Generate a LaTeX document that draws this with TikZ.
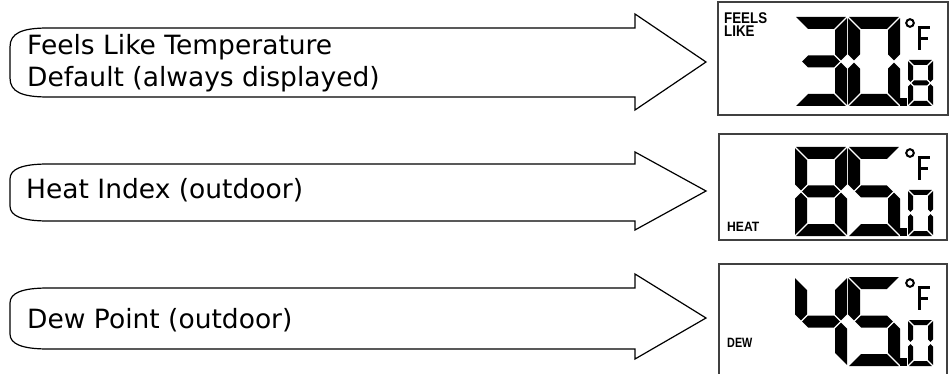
\documentclass[tikz,border=0pt]{standalone}
\usepackage{fontspec}
\setmainfont{DejaVu Sans}
\newfontfamily\lcdfont{Liberation Sans}
\def\dG{1.2}
\newcommand\sgA{\fill (\dG,0) -- ({\dW-\dG},0) -- ({\dW-\dT-\dG},\dT) -- ({\dT+\dG},\dT) -- cycle;}
\newcommand\sgD{\fill (\dG,\dH) -- ({\dW-\dG},\dH) -- ({\dW-\dT-\dG},{\dH-\dT}) -- ({\dT+\dG},{\dH-\dT}) -- cycle;}
\newcommand\sgF{\fill (0,\dG) -- (\dT,{\dT+\dG}) -- (\dT,{\dH/2-\dT/2-\dG}) -- ({\dT/2},{\dH/2-\dG}) -- (0,{\dH/2-\dT/2-\dG}) -- cycle;}
\newcommand\sgE{\fill (0,{\dH/2+\dT/2+\dG}) -- ({\dT/2},{\dH/2+\dG}) -- (\dT,{\dH/2+\dT/2+\dG}) -- (\dT,{\dH-\dT-\dG}) -- (0,{\dH-\dG}) -- cycle;}
\newcommand\sgB{\fill (\dW,\dG) -- ({\dW-\dT},{\dT+\dG}) -- ({\dW-\dT},{\dH/2-\dT/2-\dG}) -- ({\dW-\dT/2},{\dH/2-\dG}) -- (\dW,{\dH/2-\dT/2-\dG}) -- cycle;}
\newcommand\sgC{\fill (\dW,{\dH/2+\dT/2+\dG}) -- ({\dW-\dT/2},{\dH/2+\dG}) -- ({\dW-\dT},{\dH/2+\dT/2+\dG}) -- ({\dW-\dT},{\dH-\dT-\dG}) -- (\dW,{\dH-\dG}) -- cycle;}
\newcommand\sgG{\fill ({\dT/2+\dG},{\dH/2}) -- ({\dT+\dG},{\dH/2-\dT/2}) -- ({\dW-\dT-\dG},{\dH/2-\dT/2}) -- ({\dW-\dT/2-\dG},{\dH/2}) -- ({\dW-\dT-\dG},{\dH/2+\dT/2}) -- ({\dT+\dG},{\dH/2+\dT/2}) -- cycle;}
% digit: x, y, W, H, T, segments
\newcommand\lcddigit[6]{%
  \begin{scope}[shift={(#1,#2)}]
    \def\dW{#3}\def\dH{#4}\def\dT{#5}%
    \foreach \s in {#6}{\csname sg\s\endcsname}%
  \end{scope}}
% display contents: top y, big digit 1, big digit 2, small digit
\newcommand\lcdreading[4]{%
  \lcddigit{795}{#1}{52}{89}{12}{#2}%
  \lcddigit{848}{#1}{52}{89}{12}{#3}%
  \lcddigit{908}{#1+43}{25}{46}{5}{#4}%
  \begin{scope}[shift={(0,#1)}]
    \fill (900,81) rectangle (907,89);
    \draw[line width=2] (910,6) circle[radius=3.8];
    \fill (918,9) rectangle (921,33);
    \fill (918,9) rectangle (930,12);
    \fill (918,20) rectangle (928,23);
  \end{scope}}
% fat arrow: shaft top, shaft bottom, head top, head bottom, tip y, corner height
\newcommand\fatarrow[6]{%
  \draw[arrowline] (48,#1) -- (635,#1) -- (635,#3) -- (706,#5) -- (635,#4) -- (635,#2) -- (48,#2)
    .. controls (22,#2) and (10,{#2-5}) .. (10,{#2-#6}) -- (10,{#1+#6})
    .. controls (10,{#1+5}) and (22,#1) .. (48,#1) -- cycle;}
\begin{document}
\begin{tikzpicture}[x=1pt,y=-1pt,
  arrowline/.style={line width=1.2pt, line join=miter},
  lcdbox/.style={draw=black!75, line width=1.4pt},
  lbl/.style={font=\fontsize{26.5}{32}\selectfont, inner sep=0pt, anchor=base west},
  lcdlbl/.style={inner sep=0pt, anchor=base west}]
\useasboundingbox (0,0) rectangle (950,374);
\fill[white] (0,0) rectangle (950,374);

% arrows
\fatarrow{28}{97}{14}{110}{62}{19}
\fatarrow{164}{221}{152}{230}{191}{15}
\fatarrow{288}{349}{274}{359}{318}{15}

% arrow texts
\node[lbl] (t1a) at (27,55) {Feels Like Temperature};
\node[lbl] (t1b) at (27,87) {Default (always displayed)};
\node[lbl] (t2) at (26,199) {Heat Index (outdoor)};
\node[lbl] (t3) at (27,328) {Dew Point (outdoor)};

% LCD boxes
\draw[lcdbox] (718,2) rectangle (948,115);
\draw[lcdbox] (719,134) rectangle (947,240);
\draw[lcdbox] (719,378) -- (719,264) -- (947,264) -- (947,378);

% LCD labels
\node[inner sep=0pt, anchor=north west, align=left,
      font=\lcdfont\bfseries\fontsize{15.5}{13.5}\selectfont] (feels) at (724,12)
  {\scalebox{0.86}[1]{FEELS}\\\scalebox{0.86}[1]{LIKE}};
\node[lcdlbl, font=\lcdfont\bfseries\fontsize{13.5}{13.5}\selectfont] (heat) at (727,231.5) {\scalebox{0.9}[1]{HEAT}};
\node[lcdlbl, font=\lcdfont\bfseries\fontsize{13.5}{13.5}\selectfont] (dew) at (727,347.5) {\scalebox{0.8}[1]{DEW}};

% readings
\lcdreading{17}{A,B,C,D,G}{A,B,C,D,E,F}{A,B,C,D,E,F,G}
\lcdreading{147}{A,B,C,D,E,F,G}{A,C,D,F,G}{A,B,C,D,E,F}
\lcdreading{277}{B,C,F,G}{A,C,D,F,G}{A,B,C,D,E,F}
\end{tikzpicture}
\end{document}
